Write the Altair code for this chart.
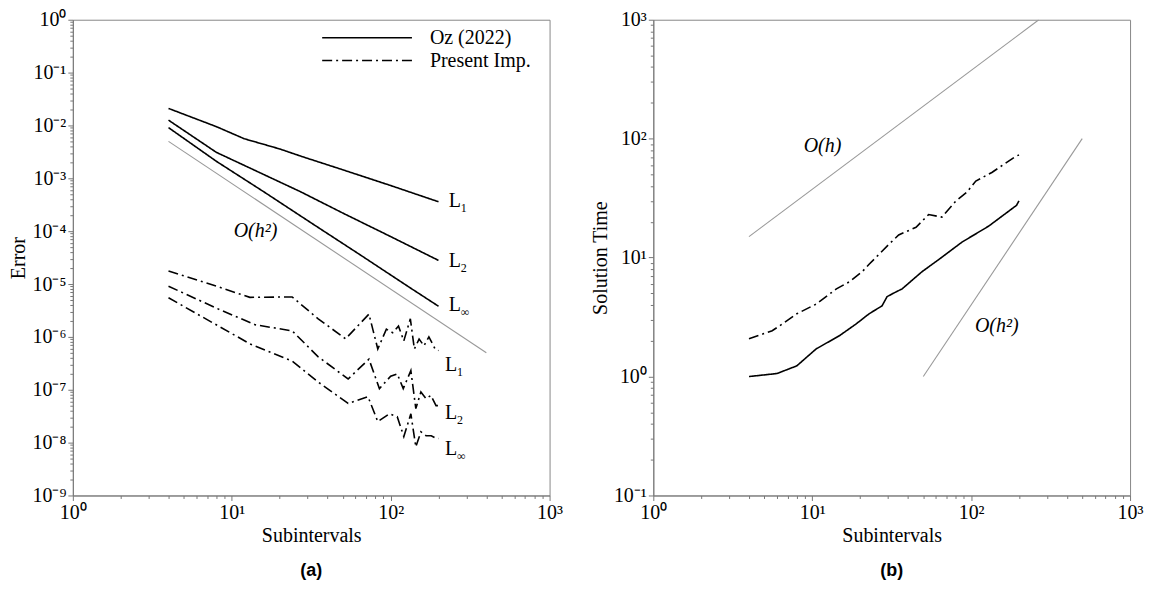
import altair as alt
import pandas as pd

FONT = "Liberation Serif"

# ---------------- (a) Error vs subintervals ----------------
oz_x_L1 = [4, 8, 12, 20, 28, 50, 100, 200]
oz_L1 = [2.1e-2, 9.5e-3, 5.6e-3, 3.6e-3, 2.55e-3, 1.45e-3, 7.3e-4, 3.6e-4]
oz_x_L2 = [4, 8, 16, 27, 50, 100, 200]
oz_L2 = [1.26e-2, 3.1e-3, 1.17e-3, 5.6e-4, 2.2e-4, 7.9e-5, 2.8e-5]
oz_x_Linf = [4, 8, 16, 32, 64, 128, 200]
oz_Linf = [9.1e-3, 2.1e-3, 5.5e-4, 1.4e-4, 3.6e-5, 9.1e-6, 3.8e-6]

pi_x_L1 = [4, 8, 13, 24, 35, 52, 73, 83, 94, 103, 112, 121, 133, 141, 151, 162, 174, 190, 200]
pi_L1 = [1.77e-5, 9.1e-6, 5.6e-6, 5.7e-6, 2.2e-6, 9.2e-7, 2.7e-6, 5.9e-7, 1.4e-6, 1.2e-6,
         1.6e-6, 8.4e-7, 2.2e-6, 5.9e-7, 9.1e-7, 6.8e-7, 1.0e-6, 6.0e-7, 5.5e-7]
pi_x_L2 = [4, 8, 14, 24, 35, 54, 73, 85, 100, 110, 120, 134, 144, 155, 167, 179, 193, 200]
pi_L2 = [9.1e-6, 3.5e-6, 1.7e-6, 1.3e-6, 4.2e-7, 1.6e-7, 3.8e-7, 1.05e-7, 1.8e-7, 2.0e-7,
         1.05e-7, 2.3e-7, 4.4e-8, 9.1e-8, 6.8e-8, 7.8e-8, 5.0e-8, 5.0e-8]
pi_x_Linf = [4, 13, 24, 35, 54, 72, 83, 98, 110, 121, 134, 144, 155, 167, 180, 193, 200]
pi_Linf = [5.5e-6, 7.4e-7, 3.5e-7, 1.4e-7, 5.5e-8, 7.4e-8, 2.5e-8, 3.5e-8, 3.1e-8, 1.3e-8,
           3.5e-8, 8.3e-9, 1.6e-8, 1.35e-8, 1.35e-8, 1.2e-8, 1.2e-8]

ref_a_x = [4, 400]
ref_a_y = [5e-3, 5e-7]

lab_a_x = [232, 232, 232, 220, 220, 220]
lab_a_y = [3.7e-4, 2.7e-5, 4.0e-6, 2.95e-7, 3.7e-8, 7.7e-9]
lab_a_main = ["L", "L", "L", "L", "L", "L"]
lab_a_sub = ["1", "2", "∞", "1", "2", "∞"]

ord_a_x = [14.1]
ord_a_y = [1.0e-4]
ord_a_text = ["O(h²)"]

# ---------------- (b) Solution time vs subintervals ----------------
oz_x_t = [4, 6, 8, 10.6, 14.8, 18.9, 22.8, 27.5, 29.6, 33.7, 36.8, 49, 63, 87.6, 129, 193, 200]
oz_t = [1.0, 1.06, 1.23, 1.71, 2.2, 2.77, 3.37, 3.93, 4.7, 5.15, 5.46, 7.6, 9.7, 13.5, 18.4, 27.5, 30.0]
pi_x_t = [4, 5.6, 6.5, 8, 10.6, 14.2, 17.1, 20.6, 22.8, 26.4, 30.5, 35, 45, 54, 65.5, 80, 94, 107, 135, 190, 200]
pi_t = [2.08, 2.43, 2.77, 3.37, 4.07, 5.46, 6.25, 7.6, 8.8, 10.7, 13, 15.5, 18, 23, 21.9,
        29.8, 35.5, 44, 52, 70.8, 73]

ref_h_x = [4, 266.7]
ref_h_y = [15, 1000]
ref_h2_x = [50, 500]
ref_h2_y = [1, 100]

ord_b_x = [11.6, 145]
ord_b_y = [86, 2.67]
ord_b_text = ["O(h)", "O(h²)"]

METHODS = ["Oz (2022)", "Present Imp."]


def series_df(pairs):
    rows = []
    for method, name, xs, ys in pairs:
        for xv, yv in zip(xs, ys):
            rows.append({"method": method, "series": name, "x": xv, "y": yv})
    return pd.DataFrame(rows)


df_a = series_df([
    (METHODS[0], "oz_L1", oz_x_L1, oz_L1),
    (METHODS[0], "oz_L2", oz_x_L2, oz_L2),
    (METHODS[0], "oz_Linf", oz_x_Linf, oz_Linf),
    (METHODS[1], "pi_L1", pi_x_L1, pi_L1),
    (METHODS[1], "pi_L2", pi_x_L2, pi_L2),
    (METHODS[1], "pi_Linf", pi_x_Linf, pi_Linf),
])
df_b = series_df([
    (METHODS[0], "oz_t", oz_x_t, oz_t),
    (METHODS[1], "pi_t", pi_x_t, pi_t),
])
ref_a = pd.DataFrame({"x": ref_a_x, "y": ref_a_y, "g": ["h2"] * 2})
ref_b = pd.DataFrame({"x": ref_h_x + ref_h2_x, "y": ref_h_y + ref_h2_y,
                      "g": ["h", "h", "h2", "h2"]})
lab_a = pd.DataFrame({"x": lab_a_x, "y": lab_a_y, "main": lab_a_main, "sub": lab_a_sub})
ord_a = pd.DataFrame({"x": ord_a_x, "y": ord_a_y, "t": ord_a_text})
ord_b = pd.DataFrame({"x": ord_b_x, "y": ord_b_y, "t": ord_b_text})


def log_values(lo, hi):
    vals = []
    for k in range(lo, hi):
        for m in range(1, 10):
            vals.append(float(f"{m}e{k}"))
    vals.append(float(f"1e{hi}"))
    return vals


E = "round(log(datum.value)/LN10)"
MAJOR = f"abs(log(datum.value)/LN10 - {E}) < 1e-6"
SUP = "['⁰','¹','²','³','⁴','⁵','⁶','⁷','⁸','⁹']"
LABEL_EXPR = f"{MAJOR} ? '10' + ({E} < 0 ? '⁻' : '') + {SUP}[abs({E})] : ''"

FS = 20


def log_axis(title, lo, hi, orient):
    return alt.Axis(
        title=title, values=log_values(lo, hi), labelExpr=LABEL_EXPR,
        tickSize={"condition": {"test": MAJOR, "value": 5}, "value": 3},
        tickColor="#777", domainColor="#777", tickWidth=1, domainWidth=1,
        labelFont=FONT, labelFontSize=FS, labelColor="black", labelPadding=2,
        labelOverlap=False, labelFlush=False, labelBound=False,
        titleFont=FONT, titleFontSize=FS, titleFontWeight="normal", titleColor="black",
        titlePadding=3, grid=False, orient=orient,
    )


def panel(df, ref, y_lo, y_hi, y_title, show_legend, texts, labels, panel_title):
    xenc = alt.X("x:Q", scale=alt.Scale(type="log", domain=[1, 1000], nice=False),
                 axis=log_axis("Subintervals", 0, 3, "bottom"))
    yenc = alt.Y("y:Q", scale=alt.Scale(type="log", domain=[10 ** y_lo, 10 ** y_hi], nice=False),
                 axis=log_axis(y_title, y_lo, y_hi, "left"))
    if show_legend:
        leg = alt.Legend(
            title=None, orient="none", legendX=285, legendY=8,
            symbolType="M-9,0H9", symbolSize=100, symbolStrokeWidth=1.5,
            symbolStrokeColor="black", symbolFillColor="transparent",
            labelFont=FONT, labelFontSize=FS,
            labelColor="black", labelOffset=53, rowPadding=3, padding=0,
        )
    else:
        leg = None
    dash = alt.StrokeDash("method:N",
                          scale=alt.Scale(domain=METHODS, range=[[1, 0], [10, 4, 2, 4]]),
                          legend=leg)
    ref_layer = alt.Chart(ref).mark_line(color="#999999", strokeWidth=1.1, clip=True).encode(
        x=xenc, y=yenc, detail="g:N")
    lines = alt.Chart(df).mark_line(color="black", strokeWidth=1.6, clip=True).encode(
        x=xenc, y=yenc, strokeDash=dash, detail="series:N")
    ord_layer = alt.Chart(texts).mark_text(font=FONT, fontSize=FS, fontStyle="italic",
                                           color="black", align="center",
                                           baseline="middle").encode(
        x=xenc, y=yenc, text="t:N")
    layers = [ref_layer, lines, ord_layer]
    if labels is not None:
        main = alt.Chart(labels).mark_text(font=FONT, fontSize=FS, color="black",
                                           align="left", baseline="middle").encode(
            x=xenc, y=yenc, text="main:N")
        sub = alt.Chart(labels).mark_text(font=FONT, fontSize=12, color="black",
                                          align="left", baseline="middle",
                                          dx=12, dy=7).encode(
            x=xenc, y=yenc, text="sub:N")
        layers += [main, sub]
    return alt.layer(*layers).properties(
        width=478, height=477,
        title=alt.TitleParams(panel_title, orient="bottom", font="Liberation Sans",
                              fontSize=18, fontWeight="bold", color="black", offset=17),
    )


left = panel(df_a, ref_a, -9, 0, "Error", True, ord_a, lab_a, "(a)")
right = panel(df_b, ref_b, -1, 3, "Solution Time", False, ord_b, None, "(b)")

chart = alt.hconcat(left, right, spacing=26).resolve_scale(
    x="independent", y="independent", strokeDash="independent"
).resolve_legend(strokeDash="independent").configure_view(
    stroke="#888888", strokeWidth=1
).properties(
    padding={"left": 0, "top": 0, "right": 5, "bottom": 5},
    background="white",
)

chart.save("out.html", embed_options={"renderer": "svg", "actions": False})
